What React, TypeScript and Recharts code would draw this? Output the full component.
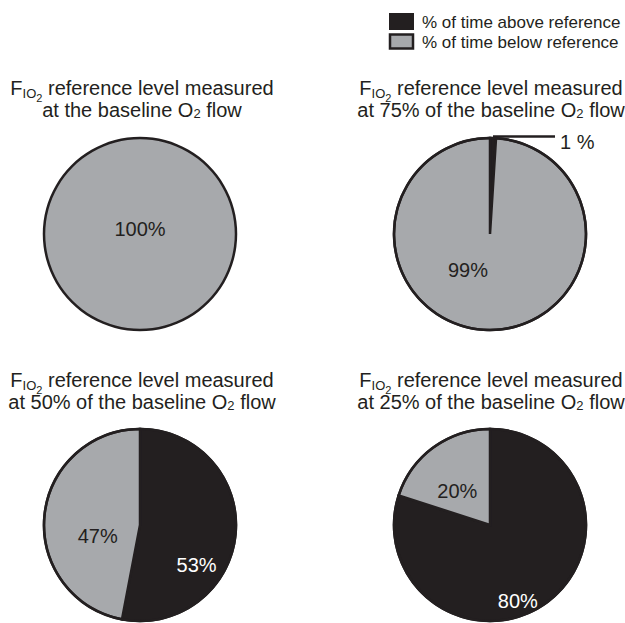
import React from 'react';
import { Cell, Pie, PieChart } from 'recharts';

// categories and values
const CATEGORIES = ['% of time above reference', '% of time below reference'];
const FLOW_LEVELS = ['the baseline', '75% of the baseline', '50% of the baseline', '25% of the baseline'];
const ABOVE = [0, 1, 53, 80];
const BELOW = [100, 99, 47, 20];
const LABELS_ABOVE = ['', '1 %', '53%', '80%'];
const LABELS_BELOW = ['100%', '99%', '47%', '20%'];

const WIDTH = 625;
const HEIGHT = 623;
const RADIUS = 96;
const DARK = '#231f20';
const GREY = '#a7a9ac';
const FONT = '"Liberation Sans", Arial, Helvetica, sans-serif';
const COLORS = [DARK, GREY];
const LABEL_COLORS = ['#ffffff', DARK];

const CENTERS: Array<[number, number]> = [
  [140, 234],
  [490, 234],
  [140, 525],
  [490, 525],
];
const TITLE_BASELINES = [95, 95, 387, 387];

// where each label sits, as a fraction of the radius from the pie centre [above, below]
const LABEL_OFFSETS: Array<Array<[number, number]>> = [
  [[0, 0], [0, -0.05]],
  [[0, 0], [-0.23, 0.38]],
  [[0.59, 0.42], [-0.44, 0.11]],
  [[0.29, 0.79], [-0.34, -0.35]],
];

const renderLabel = (panel: number) => (props: any) => {
  const { cx, cy, outerRadius, payload } = props;
  const cat = payload.cat as number;
  const text = cat === 0 ? LABELS_ABOVE[panel] : LABELS_BELOW[panel];
  if (!text) return null;
  if (panel === 1 && cat === 0) {
    return (
      <g>
        <line x1={cx + 3} y1={cy - outerRadius - 1.5} x2={cx + 65} y2={cy - outerRadius - 1.5} stroke={DARK} strokeWidth={2.5} />
        <text x={cx + 70} y={cy - outerRadius + 11} fill={DARK} fontSize={20} fontFamily={FONT}>
          {text}
        </text>
      </g>
    );
  }
  const [fx, fy] = LABEL_OFFSETS[panel][cat];
  return (
    <text
      x={cx + fx * outerRadius}
      y={cy + fy * outerRadius}
      fill={LABEL_COLORS[cat]}
      fontSize={20}
      fontFamily={FONT}
      textAnchor="middle"
      dominantBaseline="central"
    >
      {text}
    </text>
  );
};

function Title({ x, y, level }: { x: number; y: number; level: string }) {
  return (
    <g fill={DARK} fontFamily={FONT} fontSize={20} textAnchor="middle">
      <text x={x} y={y}>
        <tspan>F</tspan>
        <tspan fontSize={13} dy={3}>IO</tspan>
        <tspan fontSize={11} dy={4}>2</tspan>
        <tspan dy={-7}> reference level measured</tspan>
      </text>
      <text x={x} y={y + 22}>
        <tspan>at {level} O</tspan>
        <tspan fontSize={13} dy={1}>2</tspan>
        <tspan dy={-1}> flow</tspan>
      </text>
    </g>
  );
}

const RING = [{ value: 1 }];

export default function App() {
  const panels = ABOVE.map((above, i) =>
    [
      { name: CATEGORIES[0], value: above, cat: 0 },
      { name: CATEGORIES[1], value: BELOW[i], cat: 1 },
    ].filter((d) => d.value > 0)
  );

  return (
    <div style={{ position: 'absolute', left: 0, top: 0, width: WIDTH, height: HEIGHT, background: '#fff' }}>
      <PieChart width={WIDTH} height={HEIGHT} margin={{ top: 0, right: 0, bottom: 0, left: 0 }}>
        {panels.map((data, i) => (
          <Pie
            key={i}
            data={data}
            dataKey="value"
            nameKey="name"
            cx={CENTERS[i][0]}
            cy={CENTERS[i][1]}
            outerRadius={RADIUS}
            startAngle={90}
            endAngle={-270}
            stroke={data.length > 1 ? DARK : 'none'}
            strokeWidth={2.5}
            label={renderLabel(i)}
            labelLine={false}
            isAnimationActive={false}
          >
            {data.map((d) => (
              <Cell key={d.cat} fill={COLORS[d.cat]} />
            ))}
          </Pie>
        ))}
        {CENTERS.map(([x, y], i) => (
          <Pie
            key={`ring-${i}`}
            data={RING}
            dataKey="value"
            cx={x}
            cy={y}
            innerRadius={RADIUS - 1.25}
            outerRadius={RADIUS + 1.25}
            startAngle={90}
            endAngle={-270}
            fill={DARK}
            stroke="none"
            isAnimationActive={false}
          />
        ))}
      </PieChart>
      <svg width={WIDTH} height={HEIGHT} style={{ position: 'absolute', left: 0, top: 0, pointerEvents: 'none' }}>
        {FLOW_LEVELS.map((level, i) => (
          <Title key={level} x={i % 2 === 0 ? 142 : 491} y={TITLE_BASELINES[i]} level={level} />
        ))}
        <rect x={390} y={14} width={23} height={15} fill={DARK} stroke={DARK} strokeWidth={2} />
        <rect x={390} y={34.5} width={23} height={14} fill={GREY} stroke={DARK} strokeWidth={2.5} />
        {CATEGORIES.map((c, i) => (
          <text key={c} x={422} y={28 + i * 20} fill={DARK} fontSize={17} fontFamily={FONT}>
            {c}
          </text>
        ))}
      </svg>
    </div>
  );
}
